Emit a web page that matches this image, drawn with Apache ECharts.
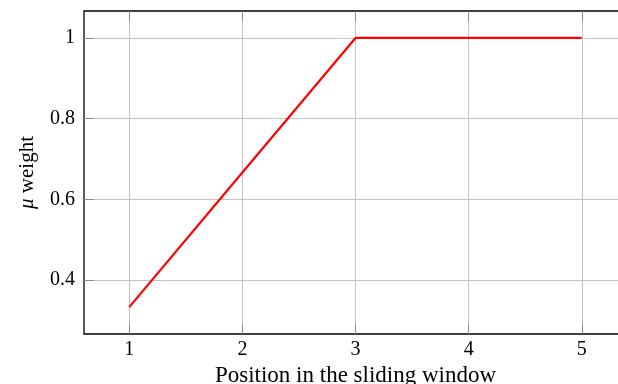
<!DOCTYPE html>
<html>
<head>
<meta charset="utf-8">
<script src="https://cdn.jsdelivr.net/npm/echarts@6/dist/echarts.min.js"></script>
<style>
  html, body { margin: 0; padding: 0; overflow: hidden; background: #fff; }
  #chart { width: 640px; height: 384px; }
</style>
</head>
<body>
<div id="chart"></div>
<script>
// Weight assigned to each position in the sliding window
const positions = [1, 2, 3, 4, 5];
const weights = [0.3333, 0.6667, 1, 1, 1];
const xTicks = [1, 2, 3, 4, 5];
const yTicks = [0.4, 0.6, 0.8, 1];

const FONT = 'Liberation Serif';
const chart = echarts.init(document.getElementById('chart'));

const tickStyle = { show: true, inside: true, length: 10, customValues: xTicks,
  lineStyle: { color: '#8c8c8c', width: 1 } };

chart.setOption({
  animation: false,
  grid: { left: 84, right: 13, top: 11, bottom: 50, show: true,
    containLabel: false, outerBoundsMode: 'none',
    borderColor: '#000', borderWidth: 1.3, backgroundColor: 'transparent' },
  xAxis: [{
    type: 'value', min: 0.6, max: 5.4,
    name: 'Position in the sliding window', nameLocation: 'middle', nameGap: 24,
    nameTextStyle: { fontFamily: FONT, fontSize: 23, color: '#000' },
    axisLine: { show: false },
    axisTick: tickStyle,
    axisLabel: { customValues: xTicks, margin: 6, fontFamily: FONT, fontSize: 20, color: '#000',
      formatter: v => String(v) },
    splitLine: { show: true, lineStyle: { color: '#c4c4c4', width: 1 } }
  }, {
    type: 'value', min: 0.6, max: 5.4, position: 'top',
    axisLine: { show: false },
    axisTick: tickStyle,
    axisLabel: { show: false },
    splitLine: { show: false }
  }],
  yAxis: {
    type: 'value', min: 0.26667, max: 1.06667,
    name: '{i|μ} weight', nameLocation: 'middle', nameGap: 46, nameRotate: 90,
    nameTextStyle: { fontFamily: FONT, fontSize: 21, color: '#000',
      rich: { i: { fontFamily: FONT, fontSize: 21, fontStyle: 'italic', color: '#000' } } },
    axisLine: { show: false },
    axisTick: { show: true, inside: true, length: 10, customValues: yTicks,
      lineStyle: { color: '#8c8c8c', width: 1 } },
    axisLabel: { customValues: yTicks, margin: 9, fontFamily: FONT, fontSize: 20, color: '#000',
      formatter: v => String(+v.toFixed(1)) },
    splitLine: { show: true, lineStyle: { color: '#c4c4c4', width: 1 } }
  },
  series: [{
    type: 'line',
    data: positions.map((p, i) => [p, weights[i]]),
    showSymbol: false,
    lineStyle: { color: '#ff0000', width: 2.2 },
    itemStyle: { color: '#ff0000' }
  }]
});
</script>
</body>
</html>
